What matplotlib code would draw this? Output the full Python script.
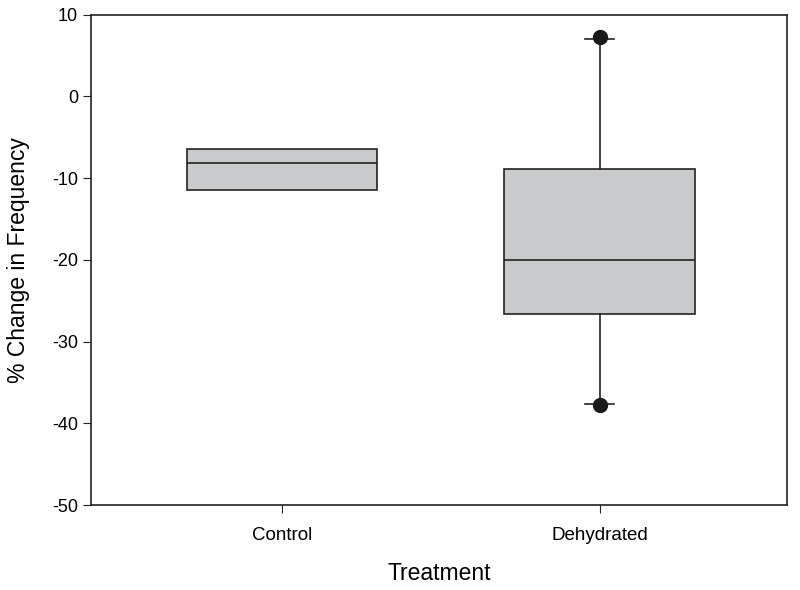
import numpy as np
import matplotlib.pyplot as plt

plt.rcParams["font.family"] = ["Liberation Sans", "DejaVu Sans"]
plt.rcParams["axes.unicode_minus"] = False

# box statistics
categories = ["Control", "Dehydrated"]
q1 = [-11.4, -26.6]
med = [-8.2, -20.0]
q3 = [-6.4, -8.9]
whislo = [-11.4, -37.6]
whishi = [-6.4, 7.0]
fliers = [[], [-37.8, 7.3]]

box_color = "#c9cacc"
line_color = "#222222"

fig = plt.figure(figsize=(8, 5.9), dpi=100)
ax = fig.add_axes([0.114, 0.144, 0.87, 0.831])

stats = []
for i, name in enumerate(categories):
    stats.append(dict(label=name, q1=q1[i], med=med[i], q3=q3[i],
                      whislo=whislo[i], whishi=whishi[i], fliers=fliers[i]))

common = dict(
    widths=0.6,
    patch_artist=True,
    boxprops=dict(facecolor=box_color, edgecolor=line_color, linewidth=1.2),
    medianprops=dict(color=line_color, linewidth=1.2),
    whiskerprops=dict(color=line_color, linewidth=1.2),
    capprops=dict(color=line_color, linewidth=1.2),
    flierprops=dict(marker="o", markerfacecolor="#1a1a1a", markeredgecolor="#1a1a1a",
                    markersize=10),
    capwidths=0.09,
)
# control has no whiskers shown
ax.bxp([stats[0]], positions=[1], showcaps=False, **common)
ax.bxp([stats[1]], positions=[2], showcaps=True, **common)

ax.set_xlim(0.4, 2.59)
ax.set_ylim(-50, 10)
ax.set_yticks(np.arange(-50, 11, 10))
ax.set_xticks([1, 2])
ax.set_xticklabels(categories, fontsize=13.5)
ax.tick_params(axis="y", labelsize=13, direction="out", length=6, color=line_color)
ax.tick_params(axis="x", direction="out", length=6, pad=10, color=line_color)
ax.set_ylabel("% Change in Frequency", fontsize=16.5, labelpad=16)
ax.set_xlabel("Treatment", fontsize=16.5, labelpad=13)
for s in ax.spines.values():
    s.set_color(line_color)
    s.set_linewidth(1.2)

fig.savefig("out.png", dpi=100)
